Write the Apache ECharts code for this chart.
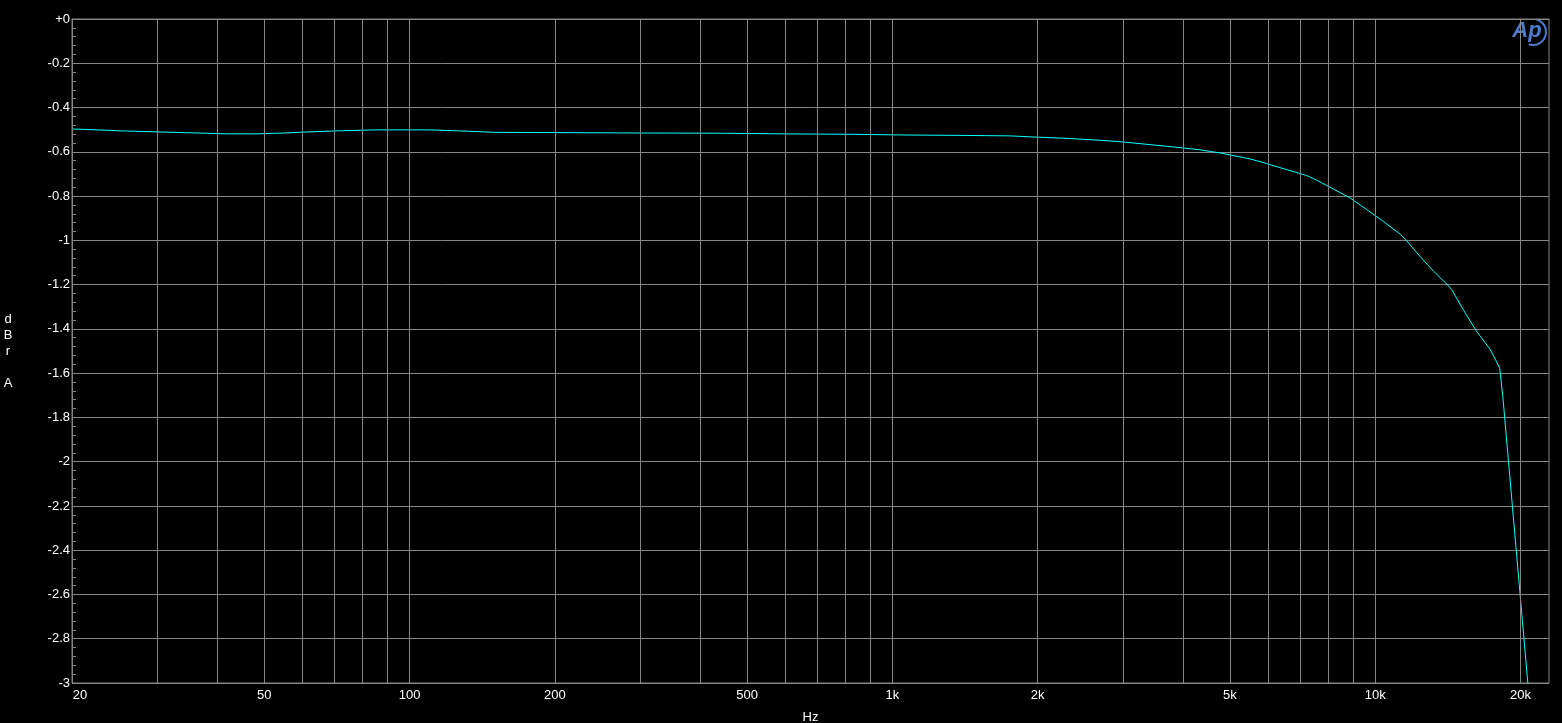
<!DOCTYPE html>
<html>
<head>
<meta charset="utf-8">
<script src="https://cdn.jsdelivr.net/npm/echarts@6/dist/echarts.min.js"></script>
<style>
html,body{margin:0;padding:0;background:#000;}
#chart{width:1562px;height:723px;}
</style>
</head>
<body>
<div id="chart"></div>
<script>
// Frequency (Hz) and level (dBr A)
const freqs = [20, 22, 25, 30, 35, 42, 48, 55, 62, 72, 85, 110, 125, 150, 300, 435, 600, 840, 1046, 1400, 1750,
  1955, 2288, 2690, 2988, 3978, 4334, 4769, 5500, 5958, 6449, 6982, 7210, 7563, 8186, 8864, 9598, 10388,
  11246, 11600, 12370, 13200, 14100, 14400, 15200, 16200, 17300, 18100, 18150, 18400, 20700, 21400];
const levels = [-0.497, -0.500, -0.505, -0.510, -0.514, -0.519, -0.519, -0.515, -0.510, -0.505, -0.501, -0.501, -0.505, -0.512, -0.515, -0.516, -0.519, -0.521, -0.524, -0.526, -0.528,
  -0.533, -0.539, -0.548, -0.555, -0.582, -0.591, -0.605, -0.632, -0.653, -0.676, -0.698, -0.707, -0.728, -0.768, -0.808, -0.861, -0.914,
  -0.971, -1.000, -1.072, -1.139, -1.200, -1.222, -1.312, -1.410, -1.493, -1.576, -1.600, -1.720, -3.000, -3.350];
const xGridFreqs = [20, 30, 40, 50, 60, 70, 80, 90, 100, 200, 300, 400, 500, 600, 700, 800, 900,
  1000, 2000, 3000, 4000, 5000, 6000, 7000, 8000, 9000, 10000, 20000];
const xLabelFreqs = [20, 50, 100, 200, 500, 1000, 2000, 5000, 10000, 20000];
const xMin = 20, xMax = 22900;
const yMin = -3, yMax = 0, yStep = 0.2;
const xName = 'Hz';
const yName = 'd\nB\nr\n\nA';

const GRID = '#858585';
const LOGO = '#4d7acb';
const FONT = 'Arial, "Liberation Sans", sans-serif';

const chart = echarts.init(document.getElementById('chart'));
chart.setOption({
  backgroundColor: '#000',
  animation: false,
  grid: { left: 72, right: 13, top: 19, bottom: 40, containLabel: false, outerBoundsMode: 'none',
    show: true, borderColor: GRID, borderWidth: 1, backgroundColor: 'transparent' },
  xAxis: {
    type: 'log', logBase: 10, min: xMin, max: xMax,
    name: xName, nameLocation: 'middle', nameGap: 28,
    nameTextStyle: { color: '#fff', fontSize: 13, fontFamily: FONT },
    axisLine: { show: true, lineStyle: { color: GRID } },
    axisTick: { show: false },
    splitLine: { show: false },
    minorSplitLine: { show: false },
    axisLabel: {
      color: '#fff', fontSize: 13, fontFamily: FONT, margin: 6,
      customValues: xLabelFreqs,
      formatter: function (v) {
        if (Math.abs(v - 20) < 1e-6) return '{a|20}';
        return v >= 1000 ? (Math.round(v / 1000) + 'k') : String(Math.round(v));
      },
      rich: { a: { padding: [0, 0, 0, 16], color: '#fff', fontSize: 13, fontFamily: FONT } }
    }
  },
  yAxis: {
    type: 'value', min: yMin, max: yMax, interval: yStep,
    axisLine: { show: true, lineStyle: { color: GRID } },
    axisTick: { show: true, inside: true, length: 4, lineStyle: { color: GRID } },
    minorTick: { show: true, splitNumber: 5, length: 4, lineStyle: { color: GRID } },
    splitLine: { show: true, lineStyle: { color: GRID, width: 1 } },
    axisLabel: {
      color: '#fff', fontSize: 13, fontFamily: FONT, margin: 2,
      formatter: function (v) {
        if (Math.abs(v) < 1e-9) return '+0';
        return String(parseFloat(v.toFixed(1)));
      }
    }
  },
  graphic: [
    { type: 'text', x: 8, y: 351, style: { text: yName, fill: '#fff', font: '13px ' + FONT, align: 'center', verticalAlign: 'middle', lineHeight: 16 } },
    { type: 'text', x: 1527, y: 31, style: { text: 'Ap', fill: LOGO, font: 'italic bold 22px ' + FONT, align: 'center', verticalAlign: 'middle' } },
    { type: 'arc', shape: { cx: 1533, cy: 32, r: 13, startAngle: -1.3, endAngle: 1.9 }, style: { stroke: LOGO, lineWidth: 2, fill: null } }
  ],
  series: [
    {
      type: 'line', data: [], z: 1, silent: true,
      markLine: {
        silent: true, symbol: ['none', 'none'], animation: false,
        label: { show: false },
        lineStyle: { color: GRID, type: 'solid', width: 1 },
        data: xGridFreqs.map(f => ({ xAxis: f }))
      }
    },
    {
      type: 'line', z: 3, showSymbol: false, symbol: 'none', clip: true,
      lineStyle: { color: '#00ffff', width: 1 },
      data: freqs.map((f, i) => [f, levels[i]])
    }
  ]
});
</script>
</body>
</html>
